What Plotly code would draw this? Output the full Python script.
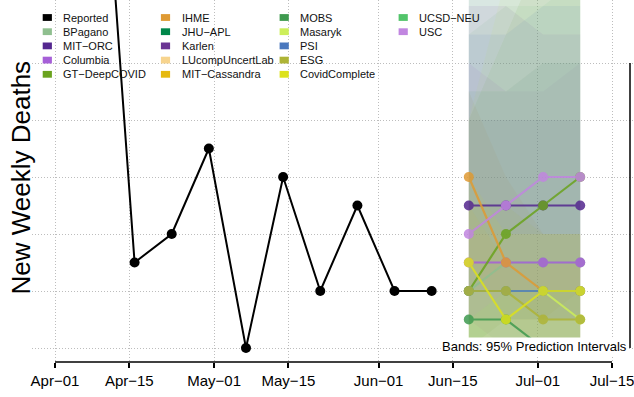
import plotly.graph_objects as go
import pandas as pd

# ---------------- data ----------------
reported_dates = ["2022-04-09", "2022-04-16", "2022-04-23", "2022-04-30", "2022-05-07",
                  "2022-05-14", "2022-05-21", "2022-05-28", "2022-06-04", "2022-06-11"]
reported_values = [21, 3, 4, 7, 0, 6, 2, 5, 2, 2]

forecast_dates = ["2022-06-18", "2022-06-25", "2022-07-02", "2022-07-09"]

models = ["BPagano", "MIT\u2212ORC", "Columbia", "GT\u2212DeepCOVID", "IHME", "JHU\u2212APL",
          "Karlen", "LUcompUncertLab", "MIT\u2212Cassandra", "MOBS", "Masaryk", "PSI",
          "ESG", "CovidComplete", "UCSD\u2212NEU", "USC"]
model_colors = ["#8FBF8F", "#54278F", "#A65FD8", "#6AA31E", "#DF9A33", "#00874A",
                "#6A3493", "#F7D48E", "#E6B90F", "#3F9A4F", "#CDEF5A", "#4A78BE",
                "#AEB436", "#DDE21C", "#52C46A", "#C186E0"]

# point forecasts (None = not visible)
forecast_median = [
    [2, 3, 3, 3],      # BPagano
    [5, 5, 5, 5],      # MIT-ORC
    [3, 3, 3, 3],      # Columbia
    [2, 4, 5, 6],      # GT-DeepCOVID
    [6, 3, 2, 2],      # IHME
    None,              # JHU-APL
    None,              # Karlen
    None,              # LUcompUncertLab
    None,              # MIT-Cassandra
    [1, 1, 0, 0],      # MOBS
    [2, 2, 2, 1],      # Masaryk
    [2, 2, 2, 2],      # PSI
    [2, 2, 1, 1],      # ESG
    [3, 1, 2, 2],      # CovidComplete
    None,              # UCSD-NEU
    [4, 5, 6, 6],      # USC
]
forecast_lower = [
    [0, 0, 0, 0], [2, 2, 1, 1], [1, 0, 0, 0], [0, 1, 1, 2], [3, 1, 0, 0], [0, 0, 0, 0],
    [1, 1, 1, 1], [0, 0, 0, 0], [0, 0, 0, 0], [0, 0, 0, 0], [0, 0, 0, 0], [0, 0, 0, 0],
    [0, 0, 0, 0], [0, 0, 0, 0], [0, 0, 0, 0], [1, 2, 2, 2],
]
forecast_upper = [
    [11, 12, 12, 13], [8, 8, 8, 8], [10, 9, 9, 10], [8, 11, 14, 17], [9, 6, 4, 4],
    [14, 15, 16, 17], [12, 12, 11, 11], [4, 4, 4, 4], [5, 3, 3, 3], [9, 9, 10, 10],
    [8, 13, 20, 25], [11, 11, 12, 12], [5, 5, 4, 4], [6, 4, 4, 4], [16, 16, 18, 18],
    [14, 16, 18, 18],
]

tick_dates = ["2022-04-01", "2022-04-15", "2022-05-01", "2022-05-15",
              "2022-06-01", "2022-06-15", "2022-07-01", "2022-07-15"]
tick_labels = ["Apr\u221201", "Apr\u221215", "May\u221201", "May\u221215",
               "Jun\u221201", "Jun\u221215", "Jul\u221201", "Jul\u221215"]
y_grid = [0, 2, 4, 6, 8, 10]

# ---------------- layout geometry (pixels) ----------------
W, H = 634, 397
PL, PR, PT, PB = 32, 634, 0, 362
PW, PH = PR - PL, PB - PT
PX_PER_DAY = 5.305
X0_PX = 55  # Apr-01
FONT = "Liberation Sans, Arial, Helvetica, sans-serif"


def px_x(px):
    return (px - PL) / PW


def px_y(py):
    return 1 - (py - PT) / PH


def hex_rgba(h, a):
    h = h.lstrip("#")
    return "rgba(%d,%d,%d,%.3f)" % (int(h[0:2], 16), int(h[2:4], 16), int(h[4:6], 16), a)


base = pd.Timestamp("2022-04-01")
x_range = [base + pd.Timedelta(days=(PL - X0_PX) / PX_PER_DAY),
           base + pd.Timedelta(days=(PR - X0_PX) / PX_PER_DAY)]

fig = go.Figure()

# prediction bands
for name, col, lo, up in zip(models, model_colors, forecast_lower, forecast_upper):
    fig.add_trace(go.Scatter(
        x=forecast_dates + forecast_dates[::-1],
        y=up + lo[::-1],
        fill="toself", fillcolor=hex_rgba(col, 0.085),
        line=dict(width=0), mode="lines", hoverinfo="skip", showlegend=False))

# reported
fig.add_trace(go.Scatter(
    x=reported_dates, y=reported_values, mode="lines+markers",
    line=dict(color="black", width=2), marker=dict(color="black", size=10),
    showlegend=False))

# point forecasts
for name, col, med in zip(models, model_colors, forecast_median):
    if med is None:
        continue
    fig.add_trace(go.Scatter(
        x=forecast_dates, y=med, mode="lines+markers",
        line=dict(color=col, width=2.2), marker=dict(color=col, size=10),
        opacity=0.85, showlegend=False))

shapes = []
annotations = []

# x axis line (R style, spanning first to last tick)
shapes.append(dict(type="line", xref="x", yref="paper", x0=tick_dates[0], x1=tick_dates[-1],
                   y0=0, y1=0, line=dict(color="black", width=1.5)))
# right vertical axis line
shapes.append(dict(type="line", xref="paper", yref="y", x0=px_x(630), x1=px_x(630),
                   y0=y_grid[0], y1=y_grid[-1], line=dict(color="black", width=1.5)))

# manual legend (column-major, 5 rows)
legend_labels = ["Reported"] + models
legend_colors = ["#000000"] + model_colors
col_swatch_px = [47.3, 165.5, 284.2, 403.2]
row_px = [17.5, 31.7, 45.9, 60.1, 74.3]
for i, (lab, col) in enumerate(zip(legend_labels, legend_colors)):
    c, r = divmod(i, 5)
    cx, cy = col_swatch_px[c], row_px[r]
    shapes.append(dict(type="rect", xref="paper", yref="paper",
                       x0=px_x(cx - 4.6), x1=px_x(cx + 4.6),
                       y0=px_y(cy + 3.4), y1=px_y(cy - 3.4),
                       fillcolor=col, line=dict(width=0)))
    annotations.append(dict(xref="paper", yref="paper", x=px_x(cx + 14), y=px_y(cy),
                            xanchor="left", yanchor="middle", text=lab, showarrow=False,
                            font=dict(family=FONT, size=11, color="#111111")))

# y title
annotations.append(dict(xref="paper", yref="paper", x=px_x(20), y=px_y(177.5),
                        text="New Weekly Deaths", textangle=-90, showarrow=False,
                        xanchor="center", yanchor="middle",
                        font=dict(family=FONT, size=26, color="black")))
# bands note
annotations.append(dict(xref="paper", yref="paper", x=px_x(629), y=px_y(346),
                        text="Bands: 95% Prediction Intervals", showarrow=False,
                        xanchor="right", yanchor="middle", bgcolor="white", borderpad=1,
                        font=dict(family=FONT, size=13, color="black")))

fig.update_layout(
    width=W, height=H,
    margin=dict(l=PL, r=W - PR, t=PT, b=H - PB),
    paper_bgcolor="white", plot_bgcolor="white",
    showlegend=False,
    shapes=shapes, annotations=annotations,
    xaxis=dict(type="date", range=x_range, tickvals=tick_dates, ticktext=tick_labels,
               showgrid=True, gridcolor="#bdbdbd", griddash="1px,2px", gridwidth=1,
               zeroline=False, showline=False, ticks="outside", ticklen=5, tickwidth=1.5,
               tickcolor="black", tickfont=dict(family=FONT, size=15, color="black"),
               ticklabeloverflow="allow", fixedrange=True),
    yaxis=dict(range=[(PB - 348) / -28.5, 348 / 28.5], tickvals=y_grid,
               showticklabels=False, showgrid=True, gridcolor="#bdbdbd",
               griddash="1px,2px", gridwidth=1, zeroline=False, showline=False, ticks="",
               fixedrange=True),
)

fig.write_html("out.html", config={"displayModeBar": False},
               post_script="document.body.style.margin='0';document.body.style.padding='0';")
